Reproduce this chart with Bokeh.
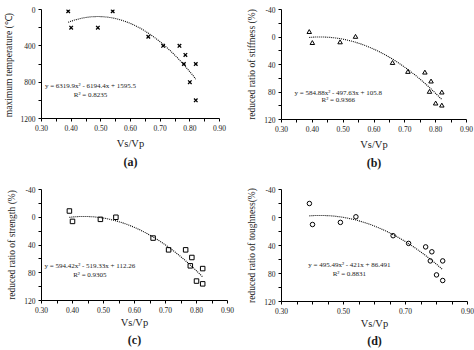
import numpy as np
from bokeh.plotting import figure
from bokeh.layouts import gridplot
from bokeh.models import Range1d, FixedTicker, PrintfTickFormatter, Title
from bokeh.core.properties import value
from bokeh.embed import file_html
from bokeh.resources import INLINE

# ---- data ----
vs_vp = [0.39, 0.40, 0.49, 0.54, 0.66, 0.71, 0.765, 0.785, 0.78, 0.80, 0.82, 0.82]
max_temp = [20, 200, 200, 20, 300, 400, 400, 500, 600, 800, 600, 1000]
stiffness = [-7, 9, 8, 0, 38, 51, 52, 65, 80, 97, 81, 100]
strength = [-9, 6, 3, 0, 30, 47, 47, 58, 70, 92, 74, 96]
toughness = [-20, 10, 7, -1, 26, 37, 42, 49, 62, 82, 62, 90]

coef_a = [6319.9, -6194.4, 1595.5]
coef_b = [584.88, -497.63, 105.8]
coef_c = [594.42, -519.33, 112.26]
coef_d = [495.49, -421.0, 86.491]

eq_a = ["y = 6319.9x² - 6194.4x + 1595.5", "R² = 0.8235"]
eq_b = ["y = 584.88x² - 497.63x + 105.8", "R² = 0.9366"]
eq_c = ["y = 594.42x² - 519.33x + 112.26", "R² = 0.9305"]
eq_d = ["y = 495.49x² - 421x + 86.491", "R² = 0.8831"]

FONT = "Liberation Serif"
TXT = "#1a1a1a"


def panel(ys, coef, eqs, eq_pos, ylabel, yrange, yticks, yminor, xticks, xminor,
          marker, tag, fw, fh, bl, br, bt, bb, lab_so, tag_so):
    p = figure(frame_width=fw, frame_height=fh, output_backend="svg",
               toolbar_location=None, min_border_left=bl, min_border_right=br,
               min_border_top=bt, min_border_bottom=bb,
               x_range=Range1d(0.3, 0.9), y_range=Range1d(yrange[1], yrange[0]))
    p.outline_line_color = None
    p.grid.visible = False
    p.background_fill_color = "white"
    p.border_fill_color = "white"
    for ax in (p.xaxis[0], p.yaxis[0]):
        ax.axis_line_color = "black"
        ax.major_tick_line_color = "black"
        ax.minor_tick_line_color = "black"
        ax.major_tick_out = 3
        ax.major_tick_in = 0
        ax.minor_tick_out = 3
        ax.minor_tick_in = 0
        ax.major_label_text_font = FONT
        ax.major_label_text_color = TXT
        ax.axis_label_text_font = FONT
        ax.axis_label_text_font_style = "normal"
        ax.axis_label_text_color = TXT
    p.xaxis.ticker = FixedTicker(ticks=xticks, minor_ticks=xminor)
    p.yaxis.ticker = FixedTicker(ticks=yticks, minor_ticks=yminor)
    p.xaxis.formatter = PrintfTickFormatter(format="%.2f")
    p.yaxis.formatter = PrintfTickFormatter(format="%d")
    p.xaxis.major_label_text_font_size = "7.5px"
    p.yaxis.major_label_text_font_size = "7.5px"
    p.xaxis.major_label_standoff = 3
    p.yaxis.major_label_standoff = 3
    p.xaxis.axis_label = "Vs/Vp"
    p.xaxis.axis_label_text_font_size = "10.5px"
    p.xaxis.axis_label_standoff = lab_so
    p.yaxis.axis_label = ylabel
    p.yaxis.axis_label_text_font_size = "9.5px"
    p.yaxis.axis_label_standoff = 4
    p.add_layout(Title(text=tag, align="center", text_font=FONT,
                       text_font_size="12px", text_font_style="bold",
                       text_color=TXT, standoff=tag_so), "below")

    xs = np.linspace(min(vs_vp), max(vs_vp), 80)
    p.line(xs, np.polyval(coef, xs), line_color="black", line_width=1.1,
           line_dash="1 1")
    if marker == "x":
        p.scatter(vs_vp, ys, marker="x", size=5, line_color="black", line_width=1.3)
    else:
        p.scatter(vs_vp, ys, marker=marker, size=4.5, line_color="black",
                  fill_color=None, line_width=1)
    p.text(x=[eq_pos[0], eq_pos[0]], y=[eq_pos[1], eq_pos[2]], text=eqs,
           text_align="center", text_baseline="middle",
           text_font=value(FONT), text_font_size="7px", text_color=TXT)
    return p


x_major = [0.3, 0.4, 0.5, 0.6, 0.7, 0.8, 0.9]
x_minor = [0.35, 0.45, 0.55, 0.65, 0.75, 0.85]
x_major_d = [0.3, 0.5, 0.7, 0.9]
x_minor_d = [0.35, 0.4, 0.45, 0.55, 0.6, 0.65, 0.75, 0.8, 0.85]
r_major = [-40, 0, 40, 80, 120]
r_minor = [-20, 20, 60, 100]

pa = panel(max_temp, coef_a, eq_a, (0.465, 837, 936), "maximum  temperature (℃)",
           (0, 1200), [0, 400, 800, 1200], [200, 600, 1000], x_major, x_minor,
           "x", "(a)", 178, 109, 39, 20, 9, 57, 4, 2)
pb = panel(stiffness, coef_b, eq_b, (0.484, 81.4, 92.3), "reduced ratio of stiffness (%)",
           (-40, 120), r_major, r_minor, x_major, x_minor,
           "triangle", "(b)", 185, 110, 40, 12, 9, 56, 4, 2)
pc = panel(strength, coef_c, eq_c, (0.456, 70, 83.4), "reduced ratio of strength (%)",
           (-40, 120), r_major, r_minor, x_major, x_minor,
           "square", "(c)", 186, 111, 33, 18, 14, 50, 1, 0)
pd = panel(toughness, coef_d, eq_d, (0.519, 67.9, 81), "reduced ratio of toughness(%)",
           (-40, 120), r_major, r_minor, x_major_d, x_minor_d,
           "circle", "(d)", 186, 112, 39, 12, 14, 49, 1, 0)

grid = gridplot([[pa, pb], [pc, pd]], toolbar_location=None)

open("out.html", "w").write(file_html(grid, INLINE))
